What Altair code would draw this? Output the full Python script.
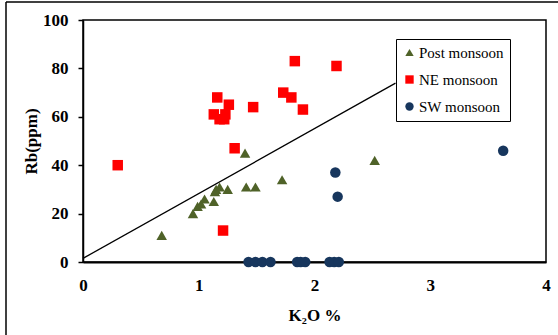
import altair as alt
import pandas as pd

series_names = ["Post monsoon", "NE monsoon", "SW monsoon"]
series_colors = ["#4F6228", "#FF0000", "#17365D"]
series_shapes = ["triangle-up", "square", "circle"]

post_x = [0.68, 0.95, 0.99, 1.02, 1.05, 1.13, 1.14, 1.15, 1.18, 1.25, 1.40, 1.41, 1.49, 1.72, 2.52]
post_y = [11, 20, 23, 24, 26, 25, 29, 30, 31, 30, 45, 31, 31, 34, 42]

ne_x = [0.30, 1.13, 1.16, 1.18, 1.22, 1.23, 1.21, 1.26, 1.31, 1.47, 1.73, 1.80, 1.83, 1.90, 2.19]
ne_y = [40, 61, 68, 59, 59, 61, 13, 65, 47, 64, 70, 68, 83, 63, 81]

sw_x = [1.43, 1.49, 1.55, 1.62, 1.85, 1.88, 1.92, 2.13, 2.17, 2.21, 2.18, 2.20, 3.63]
sw_y = [0, 0, 0, 0, 0, 0, 0, 0, 0, 0, 37, 27, 46]

trend_x = [0.0, 2.70]
trend_y = [1.5, 73.9]

x_ticks = [0, 1, 2, 3, 4]
y_ticks = [0, 20, 40, 60, 80, 100]

rows = []
for name, xs, ys in zip(series_names, [post_x, ne_x, sw_x], [post_y, ne_y, sw_y]):
    for a, b in zip(xs, ys):
        rows.append({"k2o": a, "rb": b, "series": name})
df = pd.DataFrame(rows)
trend = pd.DataFrame({"k2o": trend_x, "rb": trend_y})

FONT = "Liberation Serif"
xscale = alt.Scale(domain=[0, 4], nice=False)
yscale = alt.Scale(domain=[0, 100], nice=False)

x_axis = alt.Axis(values=x_ticks, format="d", ticks=False, tickSize=0, labelPadding=15,
                  labelFlush=False, labelFont=FONT, labelFontSize=17, labelFontWeight="bold",
                  labelColor="black", domainColor="black", domainWidth=2, grid=False,
                  title="K₂O %", titleFont=FONT, titleFontSize=17, titleFontWeight="bold",
                  titleColor="black", titlePadding=14)
y_axis = alt.Axis(values=y_ticks, format="d", tickSize=5, tickColor="black", tickWidth=1.5,
                  labelPadding=10, labelFlush=False, labelFont=FONT, labelFontSize=17,
                  labelFontWeight="bold", labelColor="black", domainColor="black",
                  domainWidth=1.5, grid=False, title="Rb(ppm)", titleFont=FONT,
                  titleFontSize=17, titleFontWeight="bold", titleColor="black",
                  titleX=-52, titleBaseline="middle")

frame_df = pd.DataFrame({"a": [0]})
frame_left = alt.Chart(frame_df).mark_rule(color="black", strokeWidth=1.5).encode(
    x=alt.value(-77), y=alt.value(-18), y2=alt.value(330))
frame_top = alt.Chart(frame_df).mark_rule(color="black", strokeWidth=1.5).encode(
    x=alt.value(-77), x2=alt.value(480), y=alt.value(-18))

line = alt.Chart(trend).mark_line(color="black", strokeWidth=1.3).encode(
    x=alt.X("k2o:Q", scale=xscale, axis=x_axis),
    y=alt.Y("rb:Q", scale=yscale, axis=y_axis),
)

legend = alt.Legend(title=None, orient="none", legendX=313, legendY=19,
                    fillColor="white", strokeColor="black", padding=6,
                    rowPadding=11, symbolSize=70, labelFont=FONT, labelFontSize=15,
                    labelColor="black", labelOffset=2, symbolStrokeWidth=0)

points = alt.Chart(df).mark_point(filled=True, opacity=1, size=110).encode(
    x=alt.X("k2o:Q", scale=xscale),
    y=alt.Y("rb:Q", scale=yscale),
    color=alt.Color("series:N", scale=alt.Scale(domain=series_names, range=series_colors),
                    legend=legend),
    shape=alt.Shape("series:N", scale=alt.Scale(domain=series_names, range=series_shapes),
                    legend=legend),
)

chart = alt.layer(frame_left, frame_top, line, points).properties(
    width=463, height=242,
    autosize=alt.AutoSizeParams(type="none"),
    padding={"left": 83, "top": 20, "right": 12, "bottom": 73},
    background="white",
).configure(
    font=FONT
).configure_view(
    stroke="black", strokeWidth=1.5
).configure_axis(
    labelFont=FONT, titleFont=FONT
).configure_legend(
    labelFont=FONT
)

chart.save("out.html", embed_options={"renderer": "svg", "actions": False})
